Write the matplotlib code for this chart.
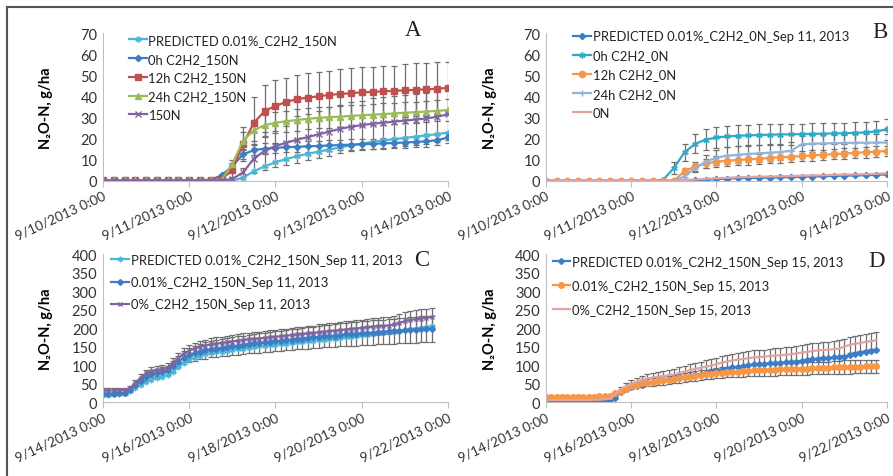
import numpy as np
import pandas as pd
import matplotlib
matplotlib.use("Agg")
import matplotlib.pyplot as plt
from matplotlib.lines import Line2D

plt.rcParams['font.family'] = ['Lato', 'DejaVu Sans']

# ---------------- data ----------------
# panel A / B: 3-hourly, 9/10/2013 0:00 .. 9/14/2013 0:00
times_ab = pd.date_range('2013-09-10 00:00', periods=33, freq='3h')
ticks_ab = pd.date_range('2013-09-10', periods=5, freq='D')
ticklabels_ab = ['9/10/2013 0:00', '9/11/2013 0:00', '9/12/2013 0:00',
                 '9/13/2013 0:00', '9/14/2013 0:00']

a_pred = [0, 0, 0, 0, 0, 0, 0, 0, 0, 0, 0, 0, 0, 1.5, 4.5, 6.8, 8.8, 10.3, 11.6,
          12.8, 13.8, 14.8, 15.8, 16.7, 17.6, 18.4, 19.1, 19.7, 20.3, 20.9, 21.5, 22.1, 22.8]
a_0h = [0.2, 0.2, 0.2, 0.2, 0.2, 0.2, 0.2, 0.2, 0.2, 0.2, 0.5, 2.5, 7, 12.5, 14.5, 15.2,
        15.6, 15.9, 16.1, 16.3, 16.5, 16.7, 16.9, 17.1, 17.3, 17.5, 17.7, 17.9, 18.1,
        18.4, 18.7, 19.2, 20.5]
a_0h_err = [0, 0, 0, 0, 0, 0, 0, 0, 0, 0, 0, 0.5, 1.5, 2, 2.5, 2.5, 2.5, 2.5, 2.5, 2.5,
            2.5, 2.5, 2.5, 2.5, 2.5, 2.5, 2.5, 2.5, 2.5, 2.5, 2.5, 2.5, 2.5]
a_12h = [0.2, 0.2, 0.2, 0.3, 0.3, 0.3, 0.3, 0.3, 0.3, 0.3, 0.4, 0.8, 5, 17.5, 27.5, 33,
         35.5, 37.3, 38.7, 39.4, 40, 40.7, 41.1, 41.5, 41.9, 42.1, 42.4, 42.6, 42.8,
         43.1, 43.3, 43.6, 44]
a_12h_err = [0, 0, 0, 0, 0, 0, 0, 0, 0, 0, 0, 0.3, 3, 8, 12, 12.5, 12, 11.5, 11.5, 11.5,
             11.5, 11.5, 12, 12, 12, 12, 12, 12, 12.5, 12.5, 12.5, 12.5, 12.5]
a_24h = [0.2, 0.2, 0.2, 0.2, 0.2, 0.2, 0.2, 0.2, 0.2, 0.2, 0.2, 0.5, 8, 19, 24, 26.3,
         27.5, 28.2, 28.8, 29.3, 29.8, 30.1, 30.4, 30.7, 31, 31.3, 31.6, 31.9, 32.2,
         32.5, 32.8, 33.1, 33.5]
a_24h_err = [0, 0, 0, 0, 0, 0, 0, 0, 0, 0, 0, 0.3, 2, 4, 5, 5, 5, 5, 5, 5, 5, 5, 5, 5,
             5, 5, 5, 5, 5, 5, 5, 5, 5]
a_150n = [0.2, 0.2, 0.2, 0.2, 0.2, 0.2, 0.2, 0.2, 0.2, 0.2, 0.2, 0.2, 0.8, 4, 10.5,
          14.2, 16.5, 18, 19.5, 20.7, 22, 23.3, 24.6, 25.6, 26.4, 27, 27.5, 28, 28.5,
          29, 29.5, 30.3, 31.5]
a_150n_err = [0, 0, 0, 0, 0, 0, 0, 0, 0, 0, 0, 0, 0.5, 2, 7, 9, 10, 10.5, 11, 11, 11,
              11.5, 11.5, 11.5, 11.5, 12, 12, 12, 12, 12, 12, 12, 12]

b_pred = [0, 0, 0, 0, 0, 0, 0, 0, 0, 0, 0, 0, 0, 0, 0.2, 0.5, 0.8, 1.0, 1.2, 1.3, 1.4,
          1.5, 1.6, 1.7, 1.9, 2.0, 2.1, 2.3, 2.4, 2.5, 2.6, 2.8, 3.0]
b_0h = [0, 0, 0, 0, 0, 0, 0, 0, 0, 0, 0, 0.5, 6, 13.5, 17.5, 19.5, 20.5, 21, 21.3,
        21.5, 21.7, 21.8, 21.9, 22, 22.1, 22.2, 22.3, 22.4, 22.5, 22.7, 22.9, 23.4, 24.3]
b_0h_err = [0, 0, 0, 0, 0, 0, 0, 0, 0, 0, 0, 0.5, 3, 4, 4.5, 5, 5, 5, 5, 5, 5, 5, 5, 5,
            5, 5, 5, 5, 5, 5, 5, 5, 5]
b_12h = [0, 0, 0, 0, 0, 0, 0, 0, 0, 0, 0, 0, 0, 4.5, 6.8, 8.2, 9.0, 9.5, 9.8, 10.1,
         10.4, 10.8, 11.1, 11.4, 11.7, 12.0, 12.3, 12.6, 12.9, 13.2, 13.5, 13.8, 14.1]
b_12h_err = [0, 0, 0, 0, 0, 0, 0, 0, 0, 0, 0, 0, 0, 1.5, 2, 2, 2.5, 2.5, 2.5, 2.5, 2.5,
             2.5, 2.5, 2.5, 2.5, 2.5, 2.5, 2.5, 2.5, 2.5, 2.5, 2.5, 2.5]
b_24h = [0, 0, 0, 0, 0, 0, 0, 0, 0, 0, 0, 0, 0, 2, 6, 9, 11, 11.8, 12.3, 12.7, 13,
         13.3, 13.6, 14.2, 17.3, 17.6, 17.7, 17.8, 17.9, 18, 18, 18.1, 18.1]
b_24h_err = [0, 0, 0, 0, 0, 0, 0, 0, 0, 0, 0, 0, 0, 1, 2, 3, 3.5, 4, 4, 4, 4, 4, 4, 4,
             4, 4, 4, 4, 4, 4, 4, 4, 4]
b_0n = [0, 0, 0, 0, 0, 0, 0, 0, 0, 0, 0, 0, 0, 0.3, 0.6, 0.9, 1.2, 1.4, 1.6, 1.8, 1.9,
        2.0, 2.1, 2.2, 2.4, 2.5, 2.6, 2.8, 2.9, 3.0, 3.1, 3.3, 3.5]

# panel C / D: 3-hourly from 9/14/2013 0:00
times_c = pd.date_range('2013-09-14 00:00', periods=62, freq='3h')
times_d = pd.date_range('2013-09-14 00:00', periods=63, freq='3h')
ticks_cd = pd.date_range('2013-09-14', periods=5, freq='2D')
ticklabels_cd = ['9/14/2013 0:00', '9/16/2013 0:00', '9/18/2013 0:00',
                 '9/20/2013 0:00', '9/22/2013 0:00']

c_pred = [20, 21, 22, 23, 25, 30, 38, 47,
          55, 61, 65, 69, 73, 82, 96, 107,
          115, 120, 125, 129, 132, 135, 137, 139,
          141, 143, 145, 147, 149, 151, 152, 154,
          155, 157, 158, 160, 162, 163, 165, 166,
          168, 169, 171, 172, 174, 176, 177, 179,
          181, 182, 184, 186, 187, 189, 191, 193,
          195, 197, 199, 201, 203, 205]
c_001 = [22, 22, 23, 24, 25, 34, 46, 58,
         69, 76, 80, 83, 86, 97, 110, 120,
         127, 132, 137, 140, 143, 145, 147, 149,
         151, 153, 155, 157, 159, 160, 162, 163,
         165, 166, 168, 169, 171, 172, 174, 175,
         176, 178, 179, 180, 182, 183, 184, 185,
         186, 187, 188, 189, 190, 191, 192, 193,
         194, 195, 196, 197, 198, 198]
c_001_err = [4, 4, 4, 4, 4, 5, 6, 7,
             8, 9, 10, 11, 12, 14, 16, 18,
             19, 20, 21, 22, 22, 23, 23, 24,
             24, 25, 25, 25, 26, 26, 26, 27,
             27, 27, 28, 28, 28, 29, 29, 29,
             30, 30, 30, 31, 31, 31, 32, 32,
             32, 32, 33, 33, 33, 34, 34, 34,
             34, 35, 35, 35, 35, 35]
c_0 = [32, 32, 32, 33, 33, 38, 52, 66,
       78, 84, 87, 89, 93, 106, 120, 131,
       139, 145, 150, 153, 156, 158, 160, 162,
       164, 166, 168, 170, 171, 172, 174, 175,
       177, 178, 180, 181, 183, 184, 186, 187,
       189, 190, 192, 193, 195, 196, 198, 199,
       201, 202, 204, 205, 206, 207, 210, 214,
       219, 222, 224, 226, 228, 230]
c_0_err = [6, 6, 6, 6, 6, 7, 8, 9,
           10, 10, 10, 11, 12, 13, 14, 15,
           15, 16, 16, 16, 17, 17, 17, 17,
           17, 18, 18, 18, 18, 18, 19, 19,
           19, 19, 19, 20, 20, 20, 20, 20,
           21, 21, 21, 21, 21, 22, 22, 22,
           22, 22, 23, 23, 23, 23, 23, 24,
           24, 24, 24, 25, 25, 25]

d_pred = [3, 3, 3, 3, 3, 3, 3, 3,
          3, 4, 4, 5, 6, 12, 28, 35,
          40, 44, 48, 51, 54, 57, 60, 62,
          65, 67, 69, 71, 73, 76, 79, 82,
          85, 88, 91, 94, 96, 98, 100, 102,
          103, 104, 105, 106, 107, 108, 109, 110,
          112, 114, 116, 118, 119, 120, 121, 122,
          123, 127, 131, 134, 137, 139, 141]
d_001 = [15, 15, 15, 15, 15, 15, 15, 15,
         15, 15, 16, 16, 17, 24, 30, 37,
         44, 48, 51, 53, 55, 57, 59, 61,
         63, 65, 67, 69, 71, 73, 75, 77,
         79, 80, 81, 82, 83, 84, 85, 86,
         87, 87, 88, 88, 89, 89, 90, 90,
         91, 91, 92, 92, 93, 93, 94, 94,
         95, 95, 96, 96, 97, 97, 97]
d_001_err = [2, 2, 2, 2, 2, 2, 2, 2,
             2, 2, 2, 2, 3, 4, 5, 6,
             7, 8, 9, 9, 10, 10, 11, 11,
             11, 12, 12, 12, 13, 13, 13, 14,
             14, 14, 14, 15, 15, 15, 15, 15,
             16, 16, 16, 16, 16, 16, 17, 17,
             17, 17, 17, 17, 17, 17, 18, 18,
             18, 18, 18, 18, 18, 18, 18]
d_0 = [6, 6, 6, 6, 6, 6, 6, 6,
       6, 7, 7, 8, 10, 22, 35, 43,
       50, 55, 60, 64, 67, 69, 71, 73,
       75, 79, 83, 87, 90, 93, 96, 99,
       103, 107, 110, 113, 115, 117, 119, 121,
       122, 123, 125, 126, 127, 128, 130, 132,
       134, 136, 138, 140, 141, 142, 143, 145,
       150, 155, 158, 160, 163, 165, 167]
d_0_err = [2, 2, 2, 2, 2, 2, 2, 2,
           2, 2, 2, 2, 3, 5, 7, 9,
           10, 11, 12, 13, 13, 14, 14, 15,
           15, 15, 16, 16, 16, 17, 17, 17,
           17, 18, 18, 18, 18, 19, 19, 19,
           19, 19, 20, 20, 20, 20, 20, 21,
           21, 21, 21, 21, 21, 22, 22, 22,
           22, 22, 22, 22, 22, 22, 22]

# colours (Excel 2010 palette)
C_CYAN = '#4BB6D6'
C_BLUE = '#3C7DC4'
C_RED = '#C0504D'
C_GREEN = '#9BBB59'
C_PURPLE = '#8064A2'
C_ORANGE = '#F79646'
C_LBLUE = '#95B3D7'
C_PINK = '#E3A3A1'
C_TEAL = '#31A9C4'
ERR = '#6f6f6f'

STAR = (6, 2, 0)


def draw(ax, x, series, ylim, yticks, xticks, xticklabels, xlim):
    for s in series:
        label, y, err, color, marker, ms = s
        y = np.asarray(y, dtype=float)
        if err is not None:
            e = np.asarray(err, dtype=float)
            m = e > 0
            ax.errorbar(x[m], y[m], yerr=e[m], fmt='none', ecolor=ERR,
                        elinewidth=0.9, capsize=2, capthick=0.9, zorder=1)
    for s in series:
        label, y, err, color, marker, ms = s
        ax.plot(x, y, color=color, lw=1.6, marker=marker, ms=ms,
                mec=color, mfc=color, mew=1.0, label=label, zorder=2)
    ax.set_xlim(xlim)
    ax.set_ylim(ylim)
    ax.set_yticks(yticks)
    ax.set_xticks(xticks)
    ax.set_xticklabels(xticklabels, rotation=25, ha='right',
                       rotation_mode='anchor', fontsize=9.8, color='#333333')
    ax.tick_params(axis='y', length=0, labelsize=10.5, labelcolor='#333333', pad=4)
    ax.tick_params(axis='x', length=4, width=0.8, color='#bfbfbf', pad=2)
    for sp in ['top', 'right']:
        ax.spines[sp].set_visible(False)
    ax.spines['left'].set_color('#bfbfbf')
    ax.spines['bottom'].set_color('#bfbfbf')
    ax.set_ylabel('N₂O-N, g/ha', fontsize=10.5, fontweight='bold')
    ax.yaxis.set_label_coords(-0.145, 0.5)


fig = plt.figure(figsize=(8.93, 4.77), dpi=100)
fig.patch.set_facecolor('white')

axA = fig.add_axes([0.1153, 0.619, 0.3864, 0.3097])
axB = fig.add_axes([0.6114, 0.619, 0.3819, 0.3097])
axC = fig.add_axes([0.1153, 0.1545, 0.3864, 0.3109])
axD = fig.add_axes([0.6114, 0.1545, 0.3819, 0.3109])

xlim_ab = (times_ab[0], times_ab[-1])
xlim_cd = (ticks_cd[0], ticks_cd[-1])

draw(axA, times_ab, [
    ('PREDICTED 0.01%_C2H2_150N', a_pred, None, C_CYAN, STAR, 4.5),
    ('0h C2H2_150N', a_0h, a_0h_err, C_BLUE, 'D', 3.2),
    ('12h C2H2_150N', a_12h, a_12h_err, C_RED, 's', 4.5),
    ('24h C2H2_150N', a_24h, a_24h_err, C_GREEN, '^', 4.5),
    ('150N', a_150n, a_150n_err, C_PURPLE, 'x', 4),
], (0, 70), range(0, 71, 10), ticks_ab, ticklabels_ab, xlim_ab)

draw(axB, times_ab, [
    ('PREDICTED 0.01%_C2H2_0N_Sep 11, 2013', b_pred, None, C_BLUE, 'D', 3.2),
    ('0h C2H2_0N', b_0h, b_0h_err, C_TEAL, STAR, 4.5),
    ('12h C2H2_0N', b_12h, b_12h_err, C_ORANGE, 'o', 4.5),
    ('24h C2H2_0N', b_24h, b_24h_err, C_LBLUE, '+', 5),
    ('0N', b_0n, None, C_PINK, None, 0),
], (0, 70), range(0, 71, 10), ticks_ab, ticklabels_ab, xlim_ab)

draw(axC, times_c, [
    ('PREDICTED 0.01%_C2H2_150N_Sep 11, 2013', c_pred, None, C_CYAN, STAR, 4),
    ('0.01%_C2H2_150N_Sep 11, 2013', c_001, c_001_err, C_BLUE, 'D', 3),
    ('0%_C2H2_150N_Sep 11, 2013', c_0, c_0_err, C_PURPLE, 'x', 3.5),
], (0, 400), range(0, 401, 50), ticks_cd, ticklabels_cd, xlim_cd)

draw(axD, times_d, [
    ('PREDICTED 0.01%_C2H2_150N_Sep 15, 2013', d_pred, None, C_BLUE, 'D', 3),
    ('0.01%_C2H2_150N_Sep 15, 2013', d_001, d_001_err, C_ORANGE, 'o', 4),
    ('0%_C2H2_150N_Sep 15, 2013', d_0, d_0_err, C_PINK, None, 0),
], (0, 400), range(0, 401, 50), ticks_cd, ticklabels_cd, xlim_cd)

leg_kw = dict(frameon=False, fontsize=9.4, handlelength=1.35, handletextpad=0.15,
              borderaxespad=0, numpoints=1, labelcolor='#222222')
axA.legend(loc='upper left', bbox_to_anchor=(0.06, 1.03), labelspacing=0.52, **leg_kw)
axB.legend(loc='upper left', bbox_to_anchor=(0.065, 1.055), labelspacing=0.55, **leg_kw)
axC.legend(loc='upper left', bbox_to_anchor=(0.008, 1.035), labelspacing=0.78, **leg_kw)
axD.legend(loc='upper left', bbox_to_anchor=(0.004, 1.025), labelspacing=0.92, **leg_kw)

# panel letters
for ax, letter, xx, yy in [(axA, 'A', 0.9, 1.027), (axB, 'B', 0.98, 1.007),
                           (axC, 'C', 0.924, 0.966), (axD, 'D', 0.97, 0.955)]:
    ax.text(xx, yy, letter, transform=ax.transAxes, fontsize=16.5,
            family='Liberation Serif', ha='center', va='center', color='#222222')

# outer frame
fig.add_artist(Line2D([7 / 893, 7 / 893], [0, 1 - 8 / 477], color='#555555', lw=1.5))
fig.add_artist(Line2D([7 / 893, 1], [1 - 8 / 477, 1 - 8 / 477], color='#555555', lw=1.5))

fig.savefig('out.png', dpi=100, facecolor='white')
